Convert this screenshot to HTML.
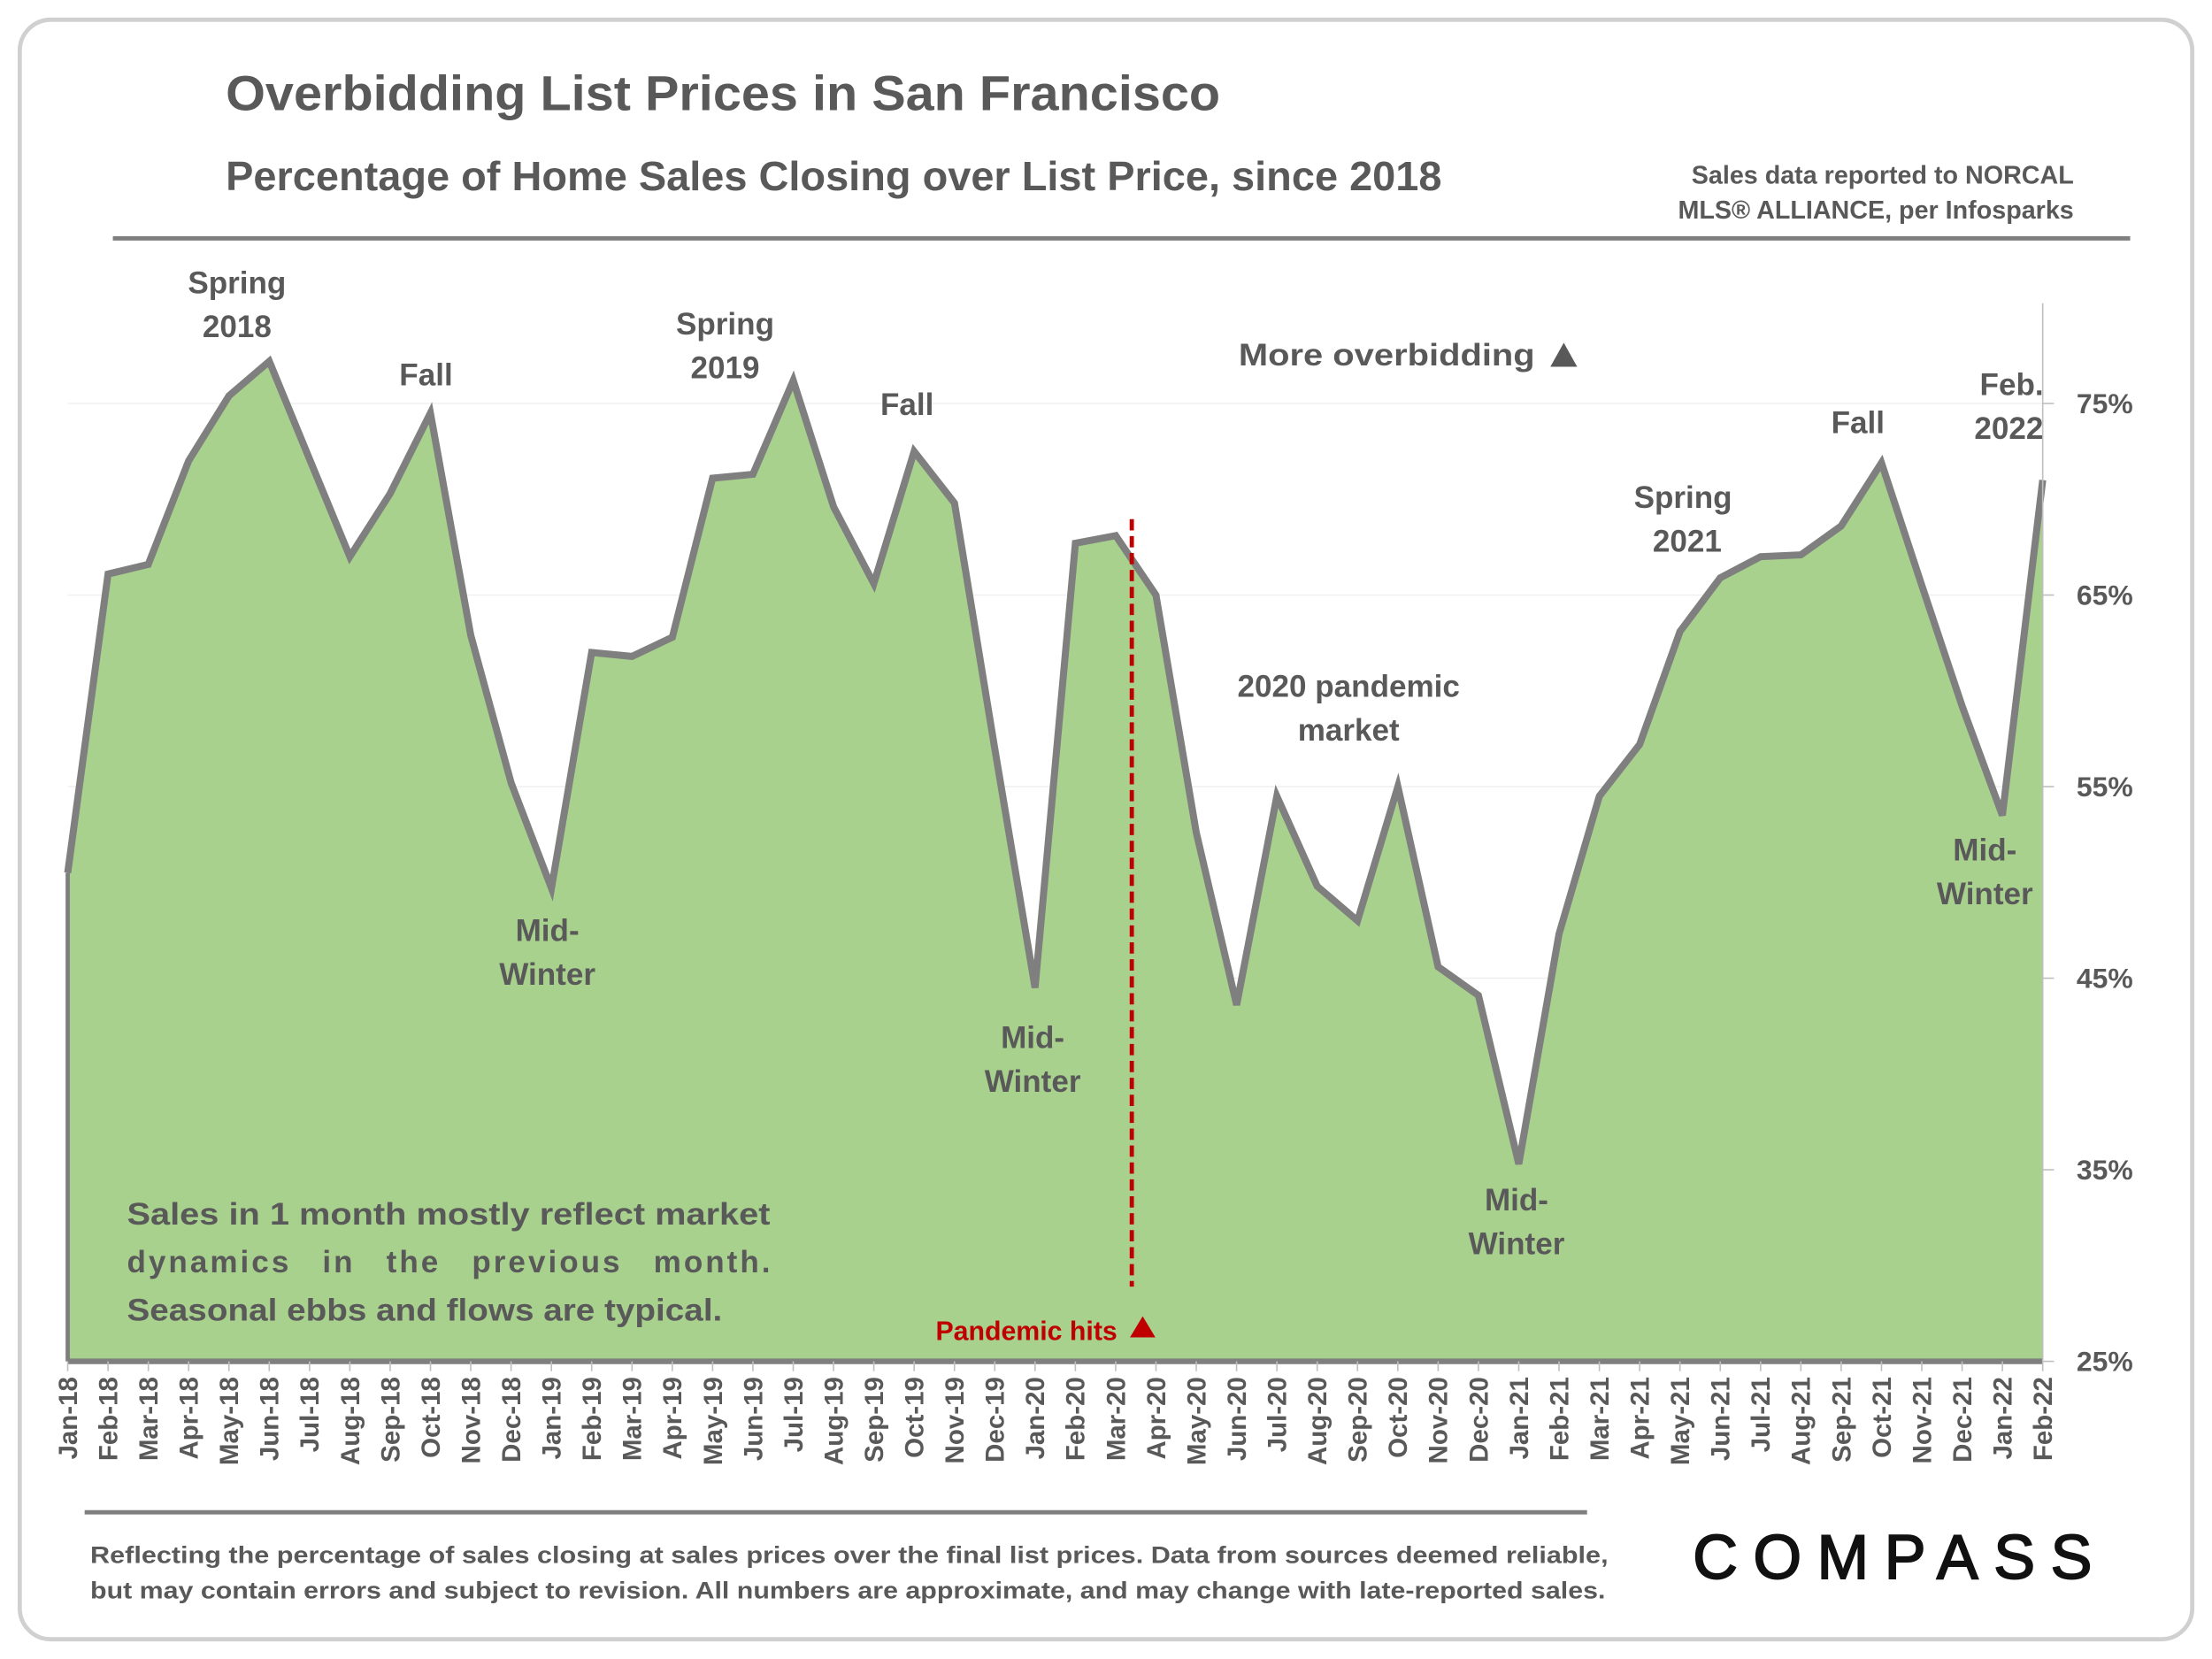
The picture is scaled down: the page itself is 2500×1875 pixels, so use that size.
<!DOCTYPE html>
<html><head><meta charset="utf-8">
<style>
html,body{margin:0;padding:0;background:#fff;}
svg{display:block;font-family:"Liberation Sans",sans-serif;font-weight:bold;}
</style></head>
<body>
<svg id="chart" width="2500" height="1875" viewBox="0 0 1568 1176" xmlns="http://www.w3.org/2000/svg">
<rect x="14" y="14" width="1540" height="1148" rx="22" fill="#fff" stroke="#d0d0d0" stroke-width="3"/>
<text x="160" y="78" font-size="35" fill="#595959" textLength="705" lengthAdjust="spacingAndGlyphs">Overbidding List Prices in San Francisco</text>
<text x="160" y="135" font-size="29" fill="#595959" textLength="862" lengthAdjust="spacingAndGlyphs">Percentage of Home Sales Closing over List Price, since 2018</text>
<text x="1470" y="130" font-size="18" fill="#595959" text-anchor="end">Sales data reported to NORCAL</text>
<text x="1470" y="155" font-size="18" fill="#595959" text-anchor="end">MLS® ALLIANCE, per Infosparks</text>
<line x1="80" y1="169" x2="1510" y2="169" stroke="#7f7f7f" stroke-width="3"/>
<g id="grid"></g>
<g id="plot"></g>
<g id="xlabels"></g>
<g id="ylabels"></g>
<g font-size="22" fill="#595959" text-anchor="middle">
<text x="168" y="208">Spring</text><text x="168" y="239">2018</text>
<text x="302" y="273">Fall</text>
<text x="514" y="237">Spring</text><text x="514" y="268">2019</text>
<text x="643" y="294">Fall</text>
<text x="388" y="667">Mid-</text><text x="388" y="698">Winter</text>
<text x="732" y="743">Mid-</text><text x="732" y="774">Winter</text>
<text x="956" y="494">2020 pandemic</text><text x="956" y="525">market</text>
<text x="1075" y="858">Mid-</text><text x="1075" y="889">Winter</text>
<text x="1193" y="360">Spring</text><text x="1196" y="391">2021</text>
<text x="1317" y="307">Fall</text>
<text x="1426" y="280">Feb.</text><text x="1424" y="311">2022</text>
<text x="1407" y="610">Mid-</text><text x="1407" y="641">Winter</text>
<text x="983" y="259" textLength="210" lengthAdjust="spacingAndGlyphs">More overbidding</text>
<polygon points="1099,260 1118,260 1108.5,243" fill="#595959"/>
</g>
<g font-size="22" fill="#595959">
<text x="90" y="868" textLength="456" lengthAdjust="spacingAndGlyphs">Sales in 1 month mostly reflect market</text>
<text x="90" y="902" textLength="456" lengthAdjust="spacing" word-spacing="14">dynamics in the previous month.</text>
<text x="90" y="936" textLength="422" lengthAdjust="spacingAndGlyphs">Seasonal ebbs and flows are typical.</text>
</g>
<g>
<text x="792" y="950" font-size="19" fill="#c00000" text-anchor="end">Pandemic hits</text>
<polygon points="801,948 819,948 810,933" fill="#c00000"/>
</g>
<line x1="60" y1="1072" x2="1125" y2="1072" stroke="#7f7f7f" stroke-width="3"/>
<text x="64" y="1108" font-size="17" fill="#595959" textLength="1076" lengthAdjust="spacingAndGlyphs">Reflecting the percentage of sales closing at sales prices over the final list prices. Data from sources deemed reliable,</text>
<text x="64" y="1133" font-size="17" fill="#595959" textLength="1074" lengthAdjust="spacingAndGlyphs">but may contain errors and subject to revision. All numbers are approximate, and may change with late-reported sales.</text>
<text x="1200" y="1119" font-size="44" font-weight="normal" fill="#111" stroke="#111" stroke-width="1.2" textLength="283" lengthAdjust="spacing">COMPASS</text>
</svg>
<script>
const months = ["Jan","Feb","Mar","Apr","May","Jun","Jul","Aug","Sep","Oct","Nov","Dec"];
const categories = [];
for (let y = 18; y <= 22; y++) for (let m = 0; m < 12; m++) { if (y === 22 && m > 1) break; categories.push(months[m] + "-" + y); }
const values = [50.5,66.1,66.6,72.0,75.4,77.2,72.1,67.0,70.3,74.5,62.9,55.2,
49.7,62.0,61.8,62.8,71.1,71.3,76.2,69.6,65.6,72.5,69.8,57.0,
44.5,67.7,68.1,65.0,52.6,43.6,54.5,49.8,48.0,55.0,45.6,44.1,
35.3,47.3,54.5,57.2,63.1,65.9,67.0,67.1,68.6,71.9,65.5,59.2,
53.5,71.0];
const yTicks = [25,35,45,55,65,75];
const yTickLabels = ["25%","35%","45%","55%","65%","75%"];
const pandemicIndex = 26.4;

const NS = "http://www.w3.org/2000/svg";
const X0 = 48, X1 = 1448, Y0 = 965, YMIN = 25, YMAX = 75, YTOP = 286;
const xs = i => X0 + (X1 - X0) * i / (categories.length - 1);
const ys = v => Y0 - (v - YMIN) / (YMAX - YMIN) * (Y0 - YTOP);
function mk(tag, attrs, parent) { const e = document.createElementNS(NS, tag); for (const k in attrs) e.setAttribute(k, attrs[k]); parent.appendChild(e); return e; }
const grid = document.getElementById("grid"), plot = document.getElementById("plot"), xl = document.getElementById("xlabels"), yl = document.getElementById("ylabels");

yTicks.forEach((t, i) => {
  const g = mk("line", {x1: X0, x2: X1, y1: ys(t), y2: ys(t), stroke: "#f0f0f0", "stroke-width": 1}, grid);
  
  
  const tk = mk("line", {x1: X1, x2: X1 + 8, y1: ys(t), y2: ys(t), stroke: "#bfbfbf", "stroke-width": 1}, yl);
  
  
  const tx = mk("text", {x: 1492, y: ys(t) + 7, "font-size": 20, fill: "#595959", "text-anchor": "middle"}, yl);
  tx.textContent = yTickLabels[i];
  
  
});
const ax = mk("line", {x1: X1, x2: X1, y1: 215, y2: Y0, stroke: "#bfbfbf", "stroke-width": 1}, yl);



let pts = values.map((v, i) => xs(i).toFixed(1) + "," + ys(v).toFixed(1));
const area = mk("polygon", {points: X0 + "," + Y0 + " " + pts.join(" ") + " " + X1 + "," + Y0, fill: "#a9d18e"}, plot);


const line = mk("polyline", {points: pts.join(" "), fill: "none", stroke: "#7f7f7f", "stroke-width": 5, "stroke-linejoin": "miter"}, plot);


const base = mk("line", {x1: X0, x2: X1, y1: Y0, y2: Y0, stroke: "#7f7f7f", "stroke-width": 4}, plot);


const lft = mk("line", {x1: X0, x2: X0, y1: ys(values[0]), y2: Y0, stroke: "#7f7f7f", "stroke-width": 3}, plot);


const pd = mk("line", {x1: xs(pandemicIndex), x2: xs(pandemicIndex), y1: 368, y2: 912, stroke: "#c00000", "stroke-width": 3, "stroke-dasharray": "8,4"}, plot);



categories.forEach((c, i) => {
  const tk = mk("line", {x1: xs(i), x2: xs(i), y1: Y0, y2: Y0 + 7, stroke: "#bfbfbf", "stroke-width": 1}, xl);
  
  
  const t = mk("text", {x: 0, y: 0, "font-size": 18.5, fill: "#595959", "text-anchor": "end", transform: "translate(" + (xs(i) + 6.5) + ",976) rotate(-90)"}, xl);
  t.textContent = c;
  
  
});
</script>
</body></html>
